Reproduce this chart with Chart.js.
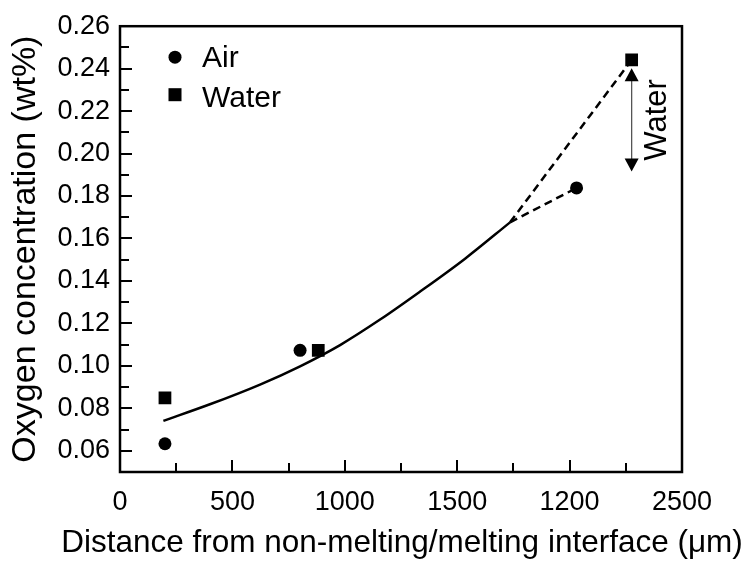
<!DOCTYPE html>
<html lang="en">
<head>
    <meta charset="UTF-8">
    <title>Oxygen concentration</title>
    <script type="text/javascript" src="https://cdn.jsdelivr.net/npm/chart.js@4.4.1/dist/chart.umd.min.js"></script>
    <style type="text/css">
        html, body {
            margin: 0; padding: 0; background: #fff;
        }
        #plot {
            display: block;
        }
    </style>
</head>

<body>
    <canvas id="plot" width="751" height="562"></canvas>

    <script>
        // Measured points (distance in um, oxygen in wt%)
        const airX = [200, 801, 2031];
        const airY = [0.0633, 0.1073, 0.1838];
        const waterX = [200, 882, 2276];
        const waterY = [0.0849, 0.1073, 0.2441];

        // Fitted curve
        const fitX = [193, 400, 623, 801, 979, 1157, 1335, 1535, 1735];
        const fitY = [0.0741, 0.0819, 0.0912, 0.0998, 0.1098, 0.1218, 0.1350, 0.1505, 0.1676];

        // Dashed extrapolations from the end of the fit
        const airDashX = [1735, 2031];
        const airDashY = [0.1676, 0.1838];
        const waterDashX = [1735, 2276];
        const waterDashY = [0.1676, 0.2441];

        // Double arrow marking the water effect
        const arrowX = 2276;
        const arrowY = [0.2402, 0.1915];
        const arrowText = "Water";

        const xTickLabels = ["0", "500", "1000", "1500", "1200", "2500"];
        const legendLabels = ["Air", "Water"];
        const xTitle = "Distance from non-melting/melting interface (\u03bcm)";
        const yTitle = "Oxygen concentration (wt%)";

        const FONT = "Arial, 'Liberation Sans', sans-serif";

        function toPoints(xs, ys) {
            return xs.map((x, i) => ({x: x, y: ys[i]}));
        }

        // Frame, inward tick marks, legend, x title and arrow annotation
        const decorations = {
            id: 'decorations',
            afterDraw(chart) {
                const ctx = chart.ctx;
                const area = chart.chartArea;
                const xs = chart.scales.x;
                const ys = chart.scales.y;
                ctx.save();
                ctx.strokeStyle = '#000';
                ctx.fillStyle = '#000';

                // ticks
                ctx.lineWidth = 2;
                ctx.beginPath();
                for (let v = 250; v < 2500; v += 250) {
                    const px = Math.round(xs.getPixelForValue(v));
                    const len = v % 500 === 0 ? 12 : 9;
                    ctx.moveTo(px, area.bottom);
                    ctx.lineTo(px, area.bottom - len);
                }
                for (let k = 6; k < 26; k++) {
                    const py = Math.round(ys.getPixelForValue(k / 100));
                    const len = k % 2 === 0 ? 12 : 9;
                    ctx.moveTo(area.left, py);
                    ctx.lineTo(area.left + len, py);
                }
                ctx.stroke();

                // frame
                ctx.lineWidth = 2.5;
                ctx.strokeRect(area.left, area.top, area.right - area.left, area.bottom - area.top);

                // x title (drawn here so it is not squeezed to the axis width)
                ctx.font = '31.5px ' + FONT;
                ctx.textAlign = 'center';
                ctx.textBaseline = 'alphabetic';
                ctx.fillText(xTitle, (area.left + area.right) / 2 + 1, 552);

                // legend
                const lx = area.left + 55;
                ctx.beginPath();
                ctx.arc(lx, area.top + 31, 6.5, 0, Math.PI * 2);
                ctx.fill();
                ctx.fillRect(lx - 6.5, area.top + 62, 13, 13);
                ctx.font = '30px ' + FONT;
                ctx.textBaseline = 'middle';
                ctx.textAlign = 'left';
                ctx.fillText(legendLabels[0], lx + 27, area.top + 33);
                ctx.fillText(legendLabels[1], lx + 27, area.top + 73);

                // double arrow
                const ax = xs.getPixelForValue(arrowX);
                const top = ys.getPixelForValue(arrowY[0]);
                const bot = ys.getPixelForValue(arrowY[1]);
                ctx.strokeStyle = '#555';
                ctx.lineWidth = 1.3;
                ctx.beginPath();
                ctx.moveTo(ax, top + 10);
                ctx.lineTo(ax, bot - 10);
                ctx.stroke();
                ctx.beginPath();
                ctx.moveTo(ax, top);
                ctx.lineTo(ax - 7, top + 13);
                ctx.lineTo(ax + 7, top + 13);
                ctx.closePath();
                ctx.moveTo(ax, bot);
                ctx.lineTo(ax - 7, bot - 13);
                ctx.lineTo(ax + 7, bot - 13);
                ctx.closePath();
                ctx.fill();

                ctx.translate(ax + 26, (top + bot) / 2);
                ctx.rotate(-Math.PI / 2);
                ctx.font = '31px ' + FONT;
                ctx.textAlign = 'center';
                ctx.textBaseline = 'middle';
                ctx.fillText(arrowText, 0, 0);
                ctx.restore();
            }
        };

        const data = {
            datasets: [
                {
                    label: 'Air',
                    data: toPoints(airX, airY),
                    showLine: false,
                    pointStyle: 'circle',
                    pointRadius: 6.5,
                    backgroundColor: '#000',
                    borderColor: '#000',
                    borderWidth: 0,
                },
                {
                    label: 'Water',
                    data: toPoints(waterX, waterY),
                    showLine: false,
                    pointStyle: 'rect',
                    pointRadius: 9,
                    backgroundColor: '#000',
                    borderColor: '#000',
                    borderWidth: 0,
                },
                {
                    label: 'fit',
                    data: toPoints(fitX, fitY),
                    showLine: true,
                    pointRadius: 0,
                    borderColor: '#000',
                    borderWidth: 2.5,
                    cubicInterpolationMode: 'monotone',
                },
                {
                    label: 'air extrapolation',
                    data: toPoints(airDashX, airDashY),
                    showLine: true,
                    pointRadius: 0,
                    borderColor: '#000',
                    borderWidth: 2.5,
                    borderDash: [8, 5],
                },
                {
                    label: 'water extrapolation',
                    data: toPoints(waterDashX, waterDashY),
                    showLine: true,
                    pointRadius: 0,
                    borderColor: '#000',
                    borderWidth: 2.5,
                    borderDash: [8, 5],
                },
            ],
        };

        const config = {
            type: 'scatter',
            data: data,
            plugins: [decorations],
            options: {
                responsive: false,
                animation: false,
                events: [],
                layout: {
                    padding: {top: 19, right: 69, left: 0, bottom: 0}
                },
                plugins: {
                    legend: {display: false},
                    tooltip: {enabled: false},
                },
                scales: {
                    x: {
                        type: 'linear',
                        min: 0,
                        max: 2500,
                        grid: {display: false, drawTicks: false},
                        border: {display: false},
                        afterFit: (scale) => { scale.height = 90; },
                        ticks: {
                            stepSize: 250,
                            autoSkip: false,
                            maxRotation: 0,
                            padding: 14,
                            color: '#000',
                            font: {family: FONT, size: 27},
                            callback: (v) => v % 500 === 0 ? xTickLabels[v / 500] : '',
                        },
                        title: {display: false}
                    },
                    y: {
                        type: 'linear',
                        min: 0.05,
                        max: 0.26,
                        grid: {display: false, drawTicks: false},
                        border: {display: false},
                        afterFit: (scale) => { scale.width = 120; },
                        ticks: {
                            stepSize: 0.01,
                            autoSkip: false,
                            padding: 10,
                            color: '#000',
                            font: {family: FONT, size: 27},
                            callback: (v) => {
                                const k = Math.round(v * 100);
                                return k % 2 === 0 ? (k / 100).toFixed(2) : '';
                            },
                        },
                        title: {
                            display: true,
                            text: yTitle,
                            color: '#000',
                            font: {family: FONT, size: 34},
                            padding: {top: 5, bottom: 0},
                        }
                    }
                }
            },
        };

        new Chart(document.getElementById('plot'), config);
    </script>
</body>

</html>
